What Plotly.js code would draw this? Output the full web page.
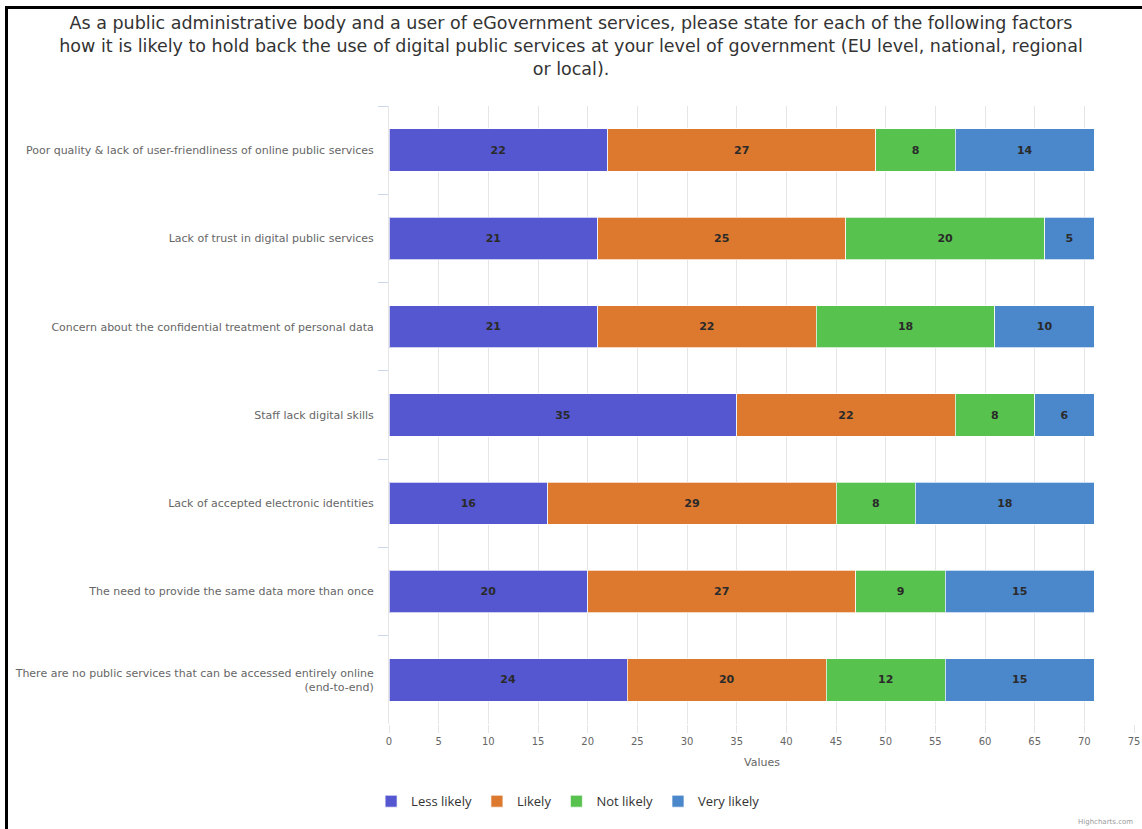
<!DOCTYPE html>
<html>
<head>
<meta charset="utf-8">
<script src="https://cdn.plot.ly/plotly-3.0.1.min.js"></script>
<style>
  html, body { margin: 0; padding: 0; background: #fff; overflow: hidden; }
  #frame { position: absolute; left: 5px; top: 6px; width: 1200px; height: 900px;
           border-left: 3px solid #000; border-top: 3px solid #000; pointer-events: none; z-index: 5; }
  #chart { position: absolute; left: 0; top: 0; width: 1142px; height: 829px; }
</style>
</head>
<body>
<div id="chart"></div>
<div id="frame"></div>
<script>
const categories = [
  "Poor quality & lack of user-friendliness of online public services",
  "Lack of trust in digital public services",
  "Concern about the confidential treatment of personal data",
  "Staff lack digital skills",
  "Lack of accepted electronic identities",
  "The need to provide the same data more than once",
  "There are no public services that can be accessed entirely online<br>(end-to-end)"
];
const seriesNames = ["Less likely", "Likely", "Not likely", "Very likely"];
const lessLikely = [22, 21, 21, 35, 16, 20, 24];
const likely     = [27, 25, 22, 22, 29, 27, 20];
const notLikely  = [8, 20, 18, 8, 8, 9, 12];
const veryLikely = [14, 5, 10, 6, 18, 15, 15];
const xTicks = [0, 5, 10, 15, 20, 25, 30, 35, 40, 45, 50, 55, 60, 65, 70, 75];

const colors = ["#5457cf", "#dc792e", "#58c24e", "#4a87cb"];
const values = [lessLikely, likely, notLikely, veryLikely];

const traces = values.map((v, i) => ({
  type: "bar",
  orientation: "h",
  name: seriesNames[i],
  y: categories,
  x: v,
  text: v.map(String),
  textposition: "inside",
  insidetextanchor: "middle",
  textangle: 0,
  textfont: { family: "DejaVu Sans", size: 11, color: "#2a2a2a", weight: "bold" },
  marker: { color: colors[i], line: { color: "rgba(255,255,255,0.7)", width: 1 } },
  hoverinfo: "x+name"
}));

const layout = {
  width: 1142, height: 829,
  margin: { l: 389, r: 7, t: 106, b: 105 },
  paper_bgcolor: "#ffffff",
  plot_bgcolor: "#ffffff",
  barmode: "stack",
  bargap: 0.52,
  title: {
    text: "As a public administrative body and a user of eGovernment services, please state for each of the following factors<br>how it is likely to hold back the use of digital public services at your level of government (EU level, national, regional<br>or local).",
    font: { family: "DejaVu Sans", size: 17.5, color: "#333333" },
    x: 0.5, xanchor: "center", xref: "container",
    y: 1 - 29 / 829, yanchor: "top", yref: "container"
  },
  xaxis: {
    range: [0, 75.1],
    tickvals: xTicks,
    ticktext: xTicks.map(String),
    showgrid: true, gridcolor: "#e6e6e6", gridwidth: 1,
    zeroline: false,
    showline: false,
    ticks: "outside", ticklen: 8, tickcolor: "#e6e6e6",
    tickfont: { family: "DejaVu Sans", size: 10, color: "#666666" },
    title: { text: "Values", font: { family: "DejaVu Sans", size: 11, color: "#666666" }, standoff: 12 }
  },
  yaxis: {
    type: "category",
    autorange: "reversed",
    showgrid: false,
    zeroline: false,
    showline: true, linecolor: "#e6e6e6", linewidth: 1,
    ticks: "outside", tickson: "boundaries", ticklen: 10, tickcolor: "#ccd6eb",
    tickfont: { family: "DejaVu Sans", size: 11, color: "#666666" },
    ticklabelstandoff: 12
  },
  legend: {
    orientation: "h",
    x: -0.024, xanchor: "left",
    y: -0.125, yanchor: "middle",
    font: { family: "Open Sans", size: 13, color: "#333333" },
    traceorder: "normal",
    itemwidth: 30
  },
  annotations: [{
    text: "Highcharts.com", xref: "paper", yref: "paper",
    x: 1, xanchor: "right", y: -0.168, yanchor: "bottom",
    showarrow: false, font: { family: "DejaVu Sans", size: 7, color: "#999999" }
  }],
  showlegend: true
};

Plotly.newPlot("chart", traces, layout, { displayModeBar: false, responsive: false });
</script>
</body>
</html>
